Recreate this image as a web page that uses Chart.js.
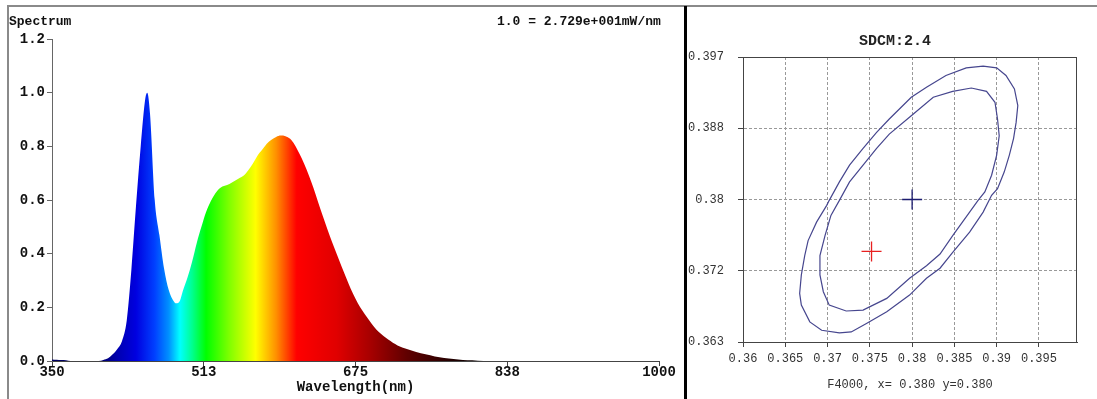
<!DOCTYPE html>
<html>
<head>
<meta charset="utf-8">
<script src="https://cdn.jsdelivr.net/npm/chart.js@4.4.0/dist/chart.umd.min.js"></script>
<style>
  html, body { margin: 0; padding: 0; background: #fff; }
  #page { position: relative; width: 1097px; height: 399px; overflow: hidden; background: #fff; }
  #frameTop { position: absolute; left: 7px; top: 5px; width: 1090px; height: 2px; background: #8a8a8a; }
  #frameLeft { position: absolute; left: 7px; top: 5px; width: 2px; height: 394px; background: #8a8a8a; }
  #divider { position: absolute; left: 684px; top: 6px; width: 3px; height: 393px; background: #000; }
  #spectrum { position: absolute; left: 9px; top: 7px; }
  #sdcm { position: absolute; left: 688px; top: 7px; }
</style>
</head>
<body>
<div id="page">
  <div id="frameTop"></div>
  <div id="frameLeft"></div>
  <canvas id="spectrum" width="675" height="392"></canvas>
  <div id="divider"></div>
  <canvas id="sdcm" width="409" height="392"></canvas>
</div>
<script>
// spectrum (relative intensity vs wavelength, nm)
const wavelengths = [350, 355, 360, 365, 370, 400, 405, 410, 415, 420, 425, 430, 435, 440, 445, 450,
    452, 455, 460, 465, 470, 475, 480, 483, 487, 490, 495, 500, 505, 510, 515, 520, 525, 530,
    540, 550, 555, 560, 565, 570, 575, 580, 585, 590, 595, 600, 605, 610, 615, 620, 625, 630,
    635, 640, 645, 650, 655, 660, 665, 670, 675, 680, 685, 690, 695, 700, 705, 710, 720, 730,
    740, 750, 760, 770, 780, 790, 800, 812];
const intensity = [0.006, 0.005, 0.004, 0.003, 0, 0, 0.004, 0.01, 0.025, 0.045, 0.075, 0.15, 0.34, 0.58, 0.80, 0.98,
    1.0, 0.92, 0.60, 0.47, 0.345, 0.265, 0.225, 0.215, 0.225, 0.26, 0.31, 0.37, 0.44, 0.50, 0.555, 0.595, 0.625, 0.645,
    0.66, 0.68, 0.69, 0.71, 0.735, 0.765, 0.787, 0.81, 0.825, 0.835, 0.84, 0.838, 0.828, 0.805, 0.772, 0.735, 0.692, 0.645,
    0.592, 0.54, 0.49, 0.443, 0.398, 0.353, 0.31, 0.268, 0.232, 0.20, 0.174, 0.15, 0.127, 0.108, 0.093, 0.08, 0.058, 0.045,
    0.034, 0.025, 0.017, 0.011, 0.007, 0.004, 0.003, 0];
const waveTicks = [350, 512.5, 675, 837.5, 1000];
const waveTickLabels = ['350', '513', '675', '838', '1000'];
const intensityTicks = [0, 0.2, 0.4, 0.6, 0.8, 1.0, 1.2];
const intensityTickLabels = ['0.0', '0.2', '0.4', '0.6', '0.8', '1.0', '1.2'];

// fill colours along the wavelength axis
const rainbow = [
    [400, '#000060'], [420, '#0000b0'], [440, '#0000e0'], [460, '#0040ff'], [475, '#0090ff'],
    [487, '#00ffff'], [500, '#00ff90'], [515, '#00ff00'], [540, '#80ff00'], [568, '#ffff00'],
    [590, '#ff9000'], [612, '#ff0000'], [655, '#e00000'], [690, '#a80000'], [730, '#600000'],
    [780, '#200000'], [820, '#000000']
];

// SDCM ellipses in CIE x,y
const outerX = [0.3702, 0.3714, 0.3726, 0.3742, 0.3758, 0.3773, 0.3799, 0.3817, 0.3840, 0.3864,
    0.3884, 0.3900, 0.3911, 0.3921, 0.3925, 0.3923, 0.3920, 0.3915, 0.3909, 0.3901,
    0.3894, 0.3884, 0.3868, 0.3848, 0.3833, 0.3817, 0.3797, 0.3770, 0.3746, 0.3728,
    0.3714, 0.3693, 0.3679, 0.3669, 0.3667, 0.3669, 0.3673, 0.3677, 0.3687, 0.3699];
const outerY = [0.3799, 0.3821, 0.3841, 0.3861, 0.3880, 0.3896, 0.3922, 0.3934, 0.3948, 0.3957,
    0.3959, 0.3957, 0.3948, 0.3932, 0.3912, 0.3892, 0.3873, 0.3853, 0.3833, 0.3813,
    0.3805, 0.3785, 0.3761, 0.3737, 0.3718, 0.3706, 0.3686, 0.3666, 0.3652, 0.3642,
    0.3641, 0.3644, 0.3654, 0.3674, 0.3688, 0.3710, 0.3733, 0.3751, 0.3773, 0.3793];
const innerX = [0.3714, 0.3726, 0.3742, 0.3758, 0.3773, 0.3799, 0.3825, 0.3848, 0.3870, 0.3888,
    0.3898, 0.3901, 0.3903, 0.3900, 0.3894, 0.3886, 0.3878, 0.3868, 0.3848, 0.3833,
    0.3817, 0.3797, 0.3770, 0.3742, 0.3722, 0.3702, 0.3695, 0.3691, 0.3691, 0.3697, 0.3704];
const innerY = [0.3799, 0.3821, 0.3841, 0.3861, 0.3878, 0.3900, 0.3922, 0.3929, 0.3933, 0.3929,
    0.3916, 0.3896, 0.3876, 0.3853, 0.3829, 0.3809, 0.3799, 0.3785, 0.3757, 0.3735,
    0.3721, 0.3706, 0.3682, 0.3668, 0.3667, 0.3674, 0.3690, 0.3710, 0.3733, 0.3757, 0.3781];
const targetPoint = [0.380, 0.380];
const measuredPoint = [0.3752, 0.3738];
const cieXTicks = [0.36, 0.365, 0.37, 0.375, 0.38, 0.385, 0.39, 0.395];
const cieXTickLabels = ['0.36', '0.365', '0.37', '0.375', '0.38', '0.385', '0.39', '0.395'];
const cieYTicks = [0.363, 0.3715, 0.38, 0.3885, 0.397];
const cieYTickLabels = ['0.363', '0.372', '0.38', '0.388', '0.397'];

const MONO = '"Liberation Mono", "DejaVu Sans Mono", monospace';

function spectrumFill(context) {
    const chart = context.chart;
    const area = chart.chartArea;
    if (!area) return '#0000ff';
    const xs = chart.scales.x;
    const x0 = xs.getPixelForValue(350);
    const x1 = xs.getPixelForValue(1000);
    const g = chart.ctx.createLinearGradient(x0, 0, x1, 0);
    rainbow.forEach(([wl, col]) => g.addColorStop((wl - 350) / 650, col));
    return g;
}

const spectrumText = {
    id: 'spectrumText',
    afterDraw(chart) {
        const ctx = chart.ctx;
        ctx.save();
        ctx.fillStyle = '#111';
        ctx.font = 'bold 13px ' + MONO;
        ctx.textBaseline = 'middle';
        ctx.fillText('Spectrum', 0, 15);
        ctx.fillText('1.0 = 2.729e+001mW/nm', 488, 15);
        ctx.restore();
    }
};

new Chart(document.getElementById('spectrum'), {
    type: 'line',
    data: {
        datasets: [{
            data: wavelengths.map((w, i) => ({ x: w, y: intensity[i] })),
            borderWidth: 0,
            borderColor: 'rgba(0,0,0,0)',
            backgroundColor: spectrumFill,
            fill: 'origin',
            pointRadius: 0,
            cubicInterpolationMode: 'monotone',
        }],
    },
    options: {
        responsive: false,
        animation: false,
        events: [],
        layout: { padding: { top: 32, right: 25, left: 0, bottom: 0 } },
        plugins: { legend: { display: false }, tooltip: { enabled: false } },
        scales: {
            x: {
                type: 'linear',
                min: 350,
                max: 1000,
                afterBuildTicks: (s) => { s.ticks = waveTicks.map((v) => ({ value: v })); },
                afterFit: (s) => { s.height = 38; },
                ticks: {
                    callback: (v, i) => waveTickLabels[i],
                    color: '#111',
                    font: { family: MONO, size: 14, weight: 'bold' },
                    padding: -2,
                    maxRotation: 0,
                    autoSkip: false,
                },
                grid: { drawOnChartArea: false, tickLength: 5, color: '#444' },
                border: { color: '#444' },
                title: {
                    display: true,
                    text: 'Wavelength(nm)',
                    color: '#111',
                    font: { family: MONO, size: 14, weight: 'bold' },
                    padding: { top: 0, bottom: 3 },
                },
            },
            y: {
                min: 0,
                max: 1.2,
                afterBuildTicks: (s) => { s.ticks = intensityTicks.map((v) => ({ value: v })); },
                afterFit: (s) => { s.width = 43; },
                ticks: {
                    callback: (v, i) => intensityTickLabels[i],
                    color: '#111',
                    font: { family: MONO, size: 14, weight: 'bold' },
                    padding: 2,
                },
                grid: { drawOnChartArea: false, tickLength: 5, color: '#666' },
                border: { color: '#666' },
            },
        },
    },
    plugins: [spectrumText],
});

const sdcmText = {
    id: 'sdcmText',
    afterDraw(chart) {
        const { ctx, chartArea } = chart;
        ctx.save();
        ctx.strokeStyle = '#444';
        ctx.lineWidth = 1;
        ctx.strokeRect(chartArea.left + 0.5, chartArea.top + 0.5,
            chartArea.right - chartArea.left - 1, chartArea.bottom - chartArea.top);
        ctx.fillStyle = '#222';
        ctx.font = 'bold 15px ' + MONO;
        ctx.textAlign = 'center';
        ctx.textBaseline = 'middle';
        ctx.fillText('SDCM:2.4', 207, 34);
        ctx.restore();
    }
};

const closeLoop = (xs, ys) => xs.concat(xs[0]).map((x, i) => ({ x, y: ys.concat(ys[0])[i] }));

new Chart(document.getElementById('sdcm'), {
    type: 'scatter',
    data: {
        datasets: [
            { data: closeLoop(outerX, outerY), showLine: true, pointRadius: 0, borderColor: '#46468e', borderWidth: 1.2, tension: 0 },
            { data: closeLoop(innerX, innerY), showLine: true, pointRadius: 0, borderColor: '#46468e', borderWidth: 1.2, tension: 0 },
            { data: [{ x: targetPoint[0], y: targetPoint[1] }], pointStyle: 'cross', pointRadius: 10,
              borderColor: '#1c1c70', pointBorderColor: '#1c1c70', pointBorderWidth: 1.3 },
            { data: [{ x: measuredPoint[0], y: measuredPoint[1] }], pointStyle: 'cross', pointRadius: 10,
              borderColor: '#e82020', pointBorderColor: '#e82020', pointBorderWidth: 1.3 },
        ],
    },
    options: {
        responsive: false,
        animation: false,
        events: [],
        layout: { padding: { top: 50, right: 20, left: 0, bottom: 0 } },
        plugins: { legend: { display: false }, tooltip: { enabled: false } },
        scales: {
            x: {
                min: 0.36,
                max: 0.3995,
                afterBuildTicks: (s) => { s.ticks = cieXTicks.map((v) => ({ value: v })); },
                afterFit: (s) => { s.height = 57; },
                ticks: {
                    callback: (v, i) => cieXTickLabels[i],
                    color: '#333',
                    font: { family: MONO, size: 12 },
                    padding: 5,
                    maxRotation: 0,
                    autoSkip: false,
                },
                grid: { color: '#999', tickColor: '#444', tickLength: 5 },
                border: { color: '#444', dash: [3, 2] },
                title: {
                    display: true,
                    text: 'F4000, x= 0.380 y=0.380',
                    color: '#333',
                    font: { family: MONO, size: 12 },
                    padding: { top: 0, bottom: 7 },
                },
            },
            y: {
                min: 0.363,
                max: 0.397,
                afterBuildTicks: (s) => { s.ticks = cieYTicks.map((v) => ({ value: v })); },
                afterFit: (s) => { s.width = 55; },
                ticks: {
                    callback: (v, i) => cieYTickLabels[i],
                    color: '#333',
                    font: { family: MONO, size: 12 },
                    padding: 14,
                },
                grid: { color: '#999', tickColor: '#444', tickLength: 5 },
                border: { color: '#444', dash: [3, 2] },
            },
        },
    },
    plugins: [sdcmText],
});
</script>
</body>
</html>
